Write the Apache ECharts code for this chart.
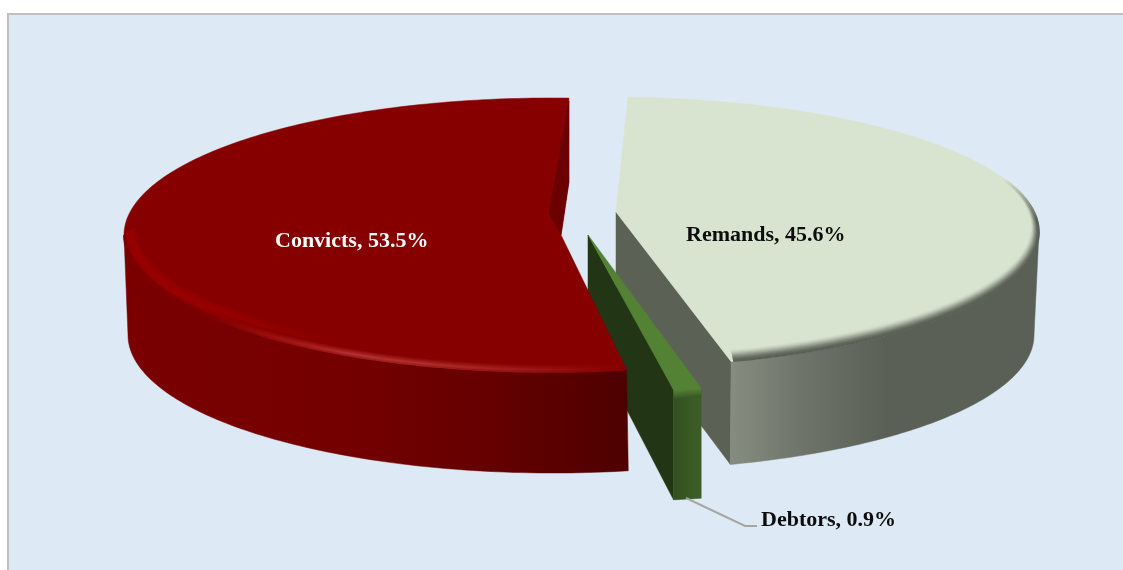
<!DOCTYPE html>
<html><head><meta charset="utf-8">
<style>html,body{margin:0;padding:0;background:#fff}#c{width:1123px;height:570px}</style>
<script src="https://cdn.jsdelivr.net/npm/echarts@6/dist/echarts.min.js"></script>
</head><body><div id="c"></div>
<script>
const categories = ['Remands', 'Debtors', 'Convicts'];
const shares = [45.6, 0.9, 53.5];
const startAngle = 2.4;

// drawing layout of each exploded slice (no values here)
const layout = {
  Remands: {top:{cx:610,cy:232,rx:429,ry:135}, bot:{cx:611,cy:335,rx:423,ry:135}, apex:[616,212], warp:0.982,
    face:'#d8e4d0', labelPos:[686,235], labelColor:'#0d0d0d'},
  Debtors: {top:{cx:585,cy:255,rx:500,ry:137}, bot:{cx:585,cy:365,rx:500,ry:137}, apex:[588,235], warp:1,
    face:'#548235', labelPos:[761,520], labelColor:'#0d0d0d'},
  Convicts:{top:{cx:551,cy:235,rx:427,ry:137}, bot:{cx:553,cy:335,rx:425,ry:138}, apex:[561,235], warp:1,
    face:'#860000', labelPos:[275,241], labelColor:'#ffffff'}
};
const total = shares.reduce((a,b)=>a+b,0);
const LG = (stops,v)=>new echarts.graphic.LinearGradient(0,0,v?0:1,v?1:0,stops.map(s=>({offset:s[0],color:s[1]})));
const pt = (e,deg)=>{const t=deg*Math.PI/180;return [e.cx+e.rx*Math.sin(t), e.cy-e.ry*Math.cos(t)];};
const arc = (e,a,b,n=90)=>{const p=[];for(let i=0;i<=n;i++)p.push(pt(e,a+(b-a)*i/n));return p;};
const hex=(c)=>[1,3,5].map(i=>parseInt(c.substr(i,2),16));
const mix=(a,b,t)=>{const A=hex(a),B=hex(b);return 'rgb('+A.map((v,i)=>Math.round(v+(B[i]-v)*t)).join(',')+')';};
const inset=(e,d)=>({cx:e.cx,cy:e.cy-d*0.45,rx:e.rx-d*0.6,ry:e.ry-d*0.45});
const poly=(points,fill)=>({type:'polygon',silent:true,shape:{points},style:{fill,stroke:fill,lineWidth:0.5}});
const line=(points,stroke,w)=>({type:'polyline',silent:true,shape:{points},style:{fill:null,stroke,lineWidth:w}});

function renderSlice(params, api){
  const i=params.dataIndex, name=categories[i], L=layout[name], value=api.value(0);
  let from=startAngle; for(let k=0;k<i;k++) from+=shares[k]/total*360;
  const a=from, b=from+value/total*360;
  const b1=a+(b-a)*L.warp;           // displayed end of the arc
  const kids=[];
  if(name==='Remands'){
    const ct=pt(L.top,b1), cb=pt(L.bot,b1);
    kids.push(poly([L.apex,[L.apex[0],L.apex[1]+100],cb,ct],'#5c6155'));
    kids.push(poly(arc(L.top,90,b1).concat(arc(L.bot,b1,90)),
      LG([[0,'#868d80'],[0.22,'#6f756a'],[0.5,'#5b6056'],[1,'#5b6056']])));
    kids.push(poly([L.apex].concat(arc(L.top,a,b1,160)),L.face));
    for(let d=15;d>=0;d-=1){
      const t=Math.min(1,d/14), w=t*t*(3-2*t), col=mix('#5b6056',L.face,w);
      kids.push(line(arc(inset(L.top,d),68,b1-0.3,120),
        LG([[0,L.face],[0.22,col],[1,col]],true),1.6));
    }
  } else if(name==='Debtors'){
    const tL=pt(L.top,b), bL=pt(L.bot,b);
    kids.push(poly([L.apex,[L.apex[0],L.apex[1]+100],bL,tL],'#223515'));
    kids.push(poly(arc(L.top,a,b,8).concat(arc(L.bot,b,a,8)),LG([[0,'#33501f'],[1,'#3d5f27']])));
    kids.push(poly([L.apex,tL].concat(arc(L.top,b,a,8)),L.face));
    for(let d=8;d>=0;d-=1){
      kids.push(line(arc({cx:L.top.cx,cy:L.top.cy+d,rx:L.top.rx,ry:L.top.ry},a,b,8),mix(L.face,'#3a5a25',d/8),1.5));
    }
  } else {
    kids.push(poly(arc(L.top,a,270).concat(arc(L.bot,270,a)),
      LG([[0,'#7a0000'],[0.45,'#740000'],[0.72,'#650000'],[1,'#4e0000']])));
    const end=pt(L.top,b), notch=[end[0],end[1]+84];
    kids.push(poly([L.apex].concat(arc(L.top,a,b,200),[notch]),L.face));
    kids.push(poly([[end[0],end[1]+3],notch,L.apex,[L.apex[0]-12,L.apex[1]-22]],'#6a0000'));
    // wide soft bevel on the left part of the rim
    for(let d=20;d>=0;d-=1){
      const peak=Math.max(0,1-Math.abs(d-10)/10);
      const col=d<5?'122,0,0':'152,0,0';
      const al=d<5?(1-d/5)*0.9:peak;
      kids.push(line(arc(inset(L.top,d),a+0.3,270,140),
        LG([[0,'rgba('+col+','+al+')'],[0.2,'rgba('+col+','+al+')'],[0.42,'rgba('+col+',0)'],[1,'rgba('+col+',0)']]),1.6));
    }
    const hl=[[0,'#860000'],[0.16,'#860000'],[0.3,'#a01010'],[0.45,'#b53232'],[0.6,'#b03030'],[0.78,'#a01c1c'],[0.93,'#8f0808'],[1,'#860000']];
    for(let d=9;d>=0;d-=1){
      const w=d<2?0.6+0.2*d:Math.max(0,1-(d-2)/6);
      const stops=hl.map(s=>[s[0],mix(L.face,s[1],w)]);
      stops[0]=[0,'rgba(134,0,0,0)'];stops[1]=[0.16,'rgba(134,0,0,0)'];
      kids.push(line(arc(inset(L.top,d),a+0.3,270,140),LG(stops),1.6));
    }
  }
  if(name==='Debtors'){
    kids.push(line([[686,498],[745,526],[757,526]],'#a9a6a2',2));
  }
  kids.push({type:'text',silent:true,x:L.labelPos[0],y:L.labelPos[1],z2:50,
    style:{text:name+', '+value.toFixed(1)+'%',fill:L.labelColor,
      font:'bold 22px "Liberation Serif", serif',textAlign:'left',textVerticalAlign:'middle'}});
  return {type:'group',children:kids};
}

const chart=echarts.init(document.getElementById('c'),null,{renderer:'canvas'});
chart.setOption({
  animation:false,
  backgroundColor:'#ffffff',
  graphic:[{type:'rect',z:-10,silent:true,shape:{x:8,y:14,width:1130,height:570},
    style:{fill:'#dde9f5',stroke:'#bfbfbf',lineWidth:2}}],
  series:[{type:'custom',coordinateSystem:'none',clip:false,renderItem:renderSlice,
    data:categories.map((n,i)=>({name:n,value:[shares[i]]}))}]
});
</script></body></html>
